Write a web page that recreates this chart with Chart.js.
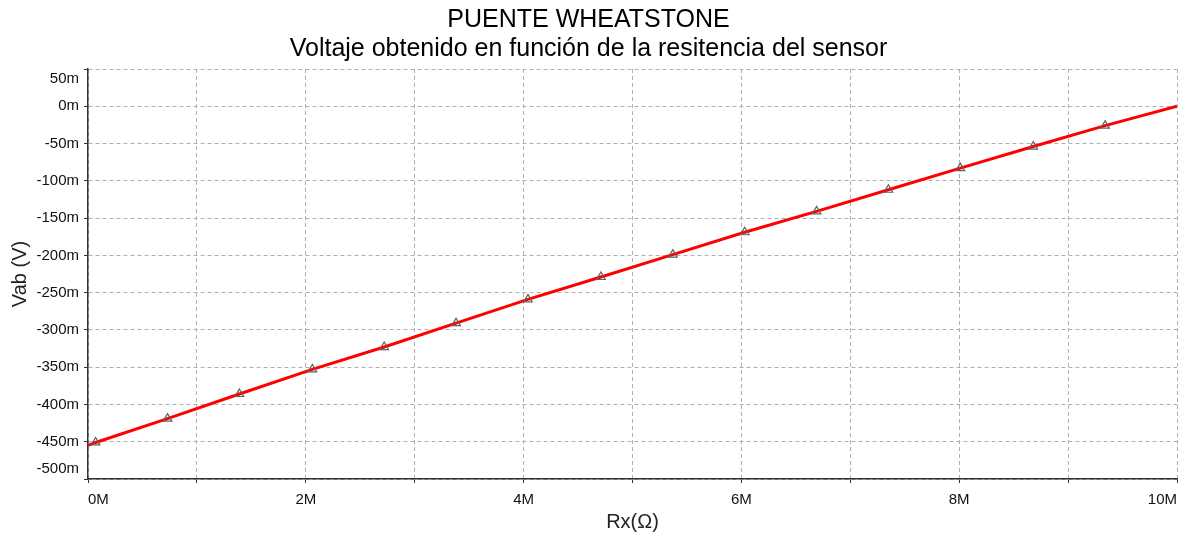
<!DOCTYPE html>
<html>
<head>
<meta charset="utf-8">
<script src="https://cdn.jsdelivr.net/npm/chart.js@4.4.0/dist/chart.umd.min.js"></script>
<style>
  html, body { margin: 0; padding: 0; background: #fff; }
  #wrap { width: 1180px; height: 537px; }
</style>
</head>
<body>
<div id="wrap"><canvas id="myChart"></canvas></div>
<script>
// Rx in megaohms (marker positions + the two ends)
const rxValues = [0, 0.07, 0.73, 1.39, 2.06, 2.72, 3.38, 4.04, 4.71, 5.37, 6.03, 6.69, 7.35, 8.01, 8.68, 9.34, 10];
// Vab in millivolts
const vabValues = [-455, -451, -419, -386, -353, -323, -291, -259, -229, -199, -169, -141, -112, -83, -54, -26, 0];

const xTicks = [0, 2, 4, 6, 8, 10];
const yTickMin = -500;
const yTickMax = 50;

const font = 'Liberation Sans, Arial, sans-serif';

document.addEventListener('DOMContentLoaded', function () {
    const ctx = document.getElementById('myChart').getContext('2d');
    const last = rxValues.length - 1;

    const points = rxValues.map((x, i) => ({ x: x, y: vabValues[i] }));

    new Chart(ctx, {
        type: 'line',
        data: {
            datasets: [{
                label: 'Vab',
                data: points,
                borderColor: '#ff0000',
                borderWidth: 3,
                tension: 0,
                pointStyle: 'triangle',
                pointRadius: c => (c.dataIndex === 0 || c.dataIndex === last) ? 0 : 5,
                pointBackgroundColor: 'rgba(0,0,0,0)',
                pointBorderColor: '#606060',
                pointBorderWidth: 1.2
            }]
        },
        options: {
            responsive: true,
            maintainAspectRatio: false,
            animation: false,
            layout: { padding: { left: 0, right: 3, top: 0, bottom: 0 } },
            plugins: {
                legend: { display: false },
                tooltip: { enabled: false },
                title: {
                    display: true,
                    text: ['PUENTE WHEATSTONE', 'Voltaje obtenido en función de la resitencia del sensor'],
                    color: '#000',
                    font: { family: font, size: 25, weight: 'normal', lineHeight: 1.16 },
                    padding: { top: 6, bottom: 5 }
                }
            },
            scales: {
                x: {
                    type: 'linear',
                    min: 0,
                    max: 10,
                    afterFit: s => {
                        s.height = 58;
                        // labels are aligned inside, no side padding needed
                        s.paddingLeft = 0;
                        s.paddingRight = 0;
                    },
                    afterBuildTicks: s => {
                        s.ticks = [];
                        for (let v = 0; v <= 10; v++) s.ticks.push({ value: v });
                    },
                    ticks: {
                        autoSkip: false,
                        maxRotation: 0,
                        align: 'inner',
                        padding: 8,
                        color: '#111',
                        font: { family: font, size: 15 },
                        callback: v => xTicks.includes(v) ? v + 'M' : ''
                    },
                    grid: { color: '#b0b0b0', lineWidth: 1, tickLength: 4, tickColor: '#333' },
                    border: { color: '#333', width: 1.5, dash: [4, 3] },
                    title: {
                        display: true,
                        text: 'Rx(Ω)',
                        color: '#222',
                        font: { family: font, size: 20 },
                        padding: { top: 0, bottom: 3 }
                    }
                },
                y: {
                    type: 'linear',
                    min: yTickMin,
                    max: yTickMax,
                    afterFit: s => { s.width = 88; },
                    ticks: {
                        stepSize: 50,
                        autoSkip: false,
                        padding: 5,
                        color: '#111',
                        font: { family: font, size: 15, lineHeight: 1.3 },
                        // the end labels sit inside the frame, as in the original plot
                        callback: v => {
                            if (v === yTickMax) return ['', v + 'm'];
                            if (v === yTickMin) return [v + 'm', ''];
                            return v + 'm';
                        }
                    },
                    grid: { color: '#b0b0b0', lineWidth: 1, tickLength: 4, tickColor: '#333' },
                    border: { color: '#333', width: 1.5, dash: [4, 3] },
                    title: {
                        display: true,
                        text: 'Vab (V)',
                        color: '#222',
                        font: { family: font, size: 20 },
                        padding: { top: 8, bottom: 0 }
                    }
                }
            }
        }
    });
});
</script>
</body>
</html>
